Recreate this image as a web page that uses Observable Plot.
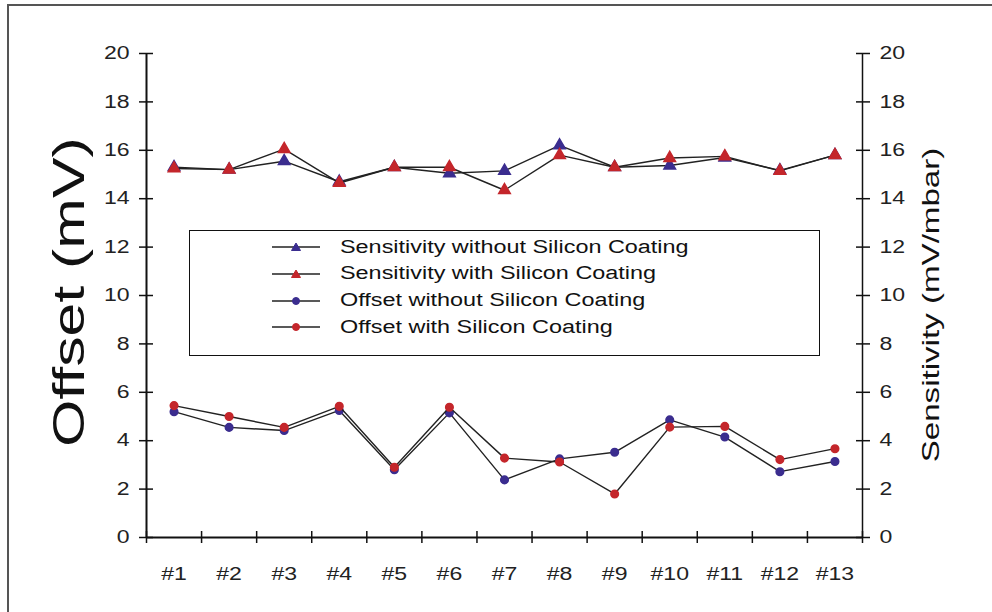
<!DOCTYPE html>
<html>
<head>
<meta charset="utf-8">
<script src="https://cdn.jsdelivr.net/npm/d3@7"></script>
<script src="https://cdn.jsdelivr.net/npm/@observablehq/plot@0.6"></script>
<style>
  html, body { margin: 0; padding: 0; background: #fff; }
  #wrap { position: relative; width: 992px; height: 612px; overflow: hidden; font-family: "Liberation Sans", Arial, sans-serif; }
  .border-top { position: absolute; left: 7px; top: 4px; width: 985px; height: 0; border-top: 2px solid #555; }
  .border-left { position: absolute; left: 7px; top: 4px; width: 0; height: 608px; border-left: 2px solid #555; }
  #legend { position: absolute; left: 189px; top: 230px; width: 631px; height: 126px; border: 1.5px solid #111; box-sizing: border-box; background: #fff; }
  #legend .row { position: absolute; left: 0; height: 24px; display: flex; align-items: center; }
  #legend .row span { font-size: 18px; color: #111; margin-left: 20px; display: inline-block; transform: scaleX(1.3); transform-origin: left center; white-space: nowrap; }
  .ytitle { position: absolute; white-space: nowrap; color: #111; line-height: 1; }
</style>
</head>
<body>
<div id="wrap"></div>
<script>
// Data
const samples = ["#1","#2","#3","#4","#5","#6","#7","#8","#9","#10","#11","#12","#13"];
const sensWithout = [15.3, 15.2, 15.55, 14.7, 15.3, 15.05, 15.15, 16.2, 15.3, 15.37, 15.7, 15.17, 15.8];
const sensWith    = [15.25, 15.2, 16.05, 14.65, 15.3, 15.3, 14.35, 15.8, 15.3, 15.68, 15.75, 15.15, 15.8];
const offWithout  = [5.2, 4.55, 4.42, 5.25, 2.8, 5.15, 2.38, 3.25, 3.52, 4.86, 4.15, 2.72, 3.14];
const offWith     = [5.45, 5.0, 4.55, 5.42, 2.9, 5.38, 3.28, 3.12, 1.8, 4.56, 4.59, 3.22, 3.67];
const yTicks = [0, 2, 4, 6, 8, 10, 12, 14, 16, 18, 20];
const seriesNames = [
  "Sensitivity without Silicon Coating",
  "Sensitivity with Silicon Coating",
  "Offset without Silicon Coating",
  "Offset with Silicon Coating"
];

const blue = "#3b2d8f";
const red = "#c4262b";

const idx = samples.map((s, i) => i + 1);
const toRows = (vals) => vals.map((v, i) => ({x: i + 1, y: v}));
const series = [
  {name: seriesNames[0], data: toRows(sensWithout), color: blue, symbol: "triangle"},
  {name: seriesNames[1], data: toRows(sensWith), color: red, symbol: "triangle"},
  {name: seriesNames[2], data: toRows(offWithout), color: blue, symbol: "circle"},
  {name: seriesNames[3], data: toRows(offWith), color: red, symbol: "circle"}
];
const boundaries = d3.range(0.5, samples.length + 1, 1);

const marks = [];
// axis lines
marks.push(Plot.ruleX([0.5], {stroke: "#111", strokeWidth: 2}));
marks.push(Plot.ruleX([samples.length + 0.5], {stroke: "#111", strokeWidth: 1.5}));
marks.push(Plot.ruleY([0], {stroke: "#111", strokeWidth: 2}));
// y axes (left & right), crossing ticks
for (const anchor of ["left", "right"]) {
  marks.push(Plot.axisY({anchor, ticks: yTicks, tickSize: 7, tickPadding: 10, fontSize: 18, stroke: "#111", strokeWidth: 1.5, color: "#222", label: null, tickFormat: d => d}));
  marks.push(Plot.axisY({anchor, ticks: yTicks, tickSize: -7, text: null, stroke: "#111", strokeWidth: 1.5, label: null}));
}
// x axis: ticks at boundaries, labels at centers
marks.push(Plot.axisX({ticks: boundaries, tickSize: 6, text: null, stroke: "#111", strokeWidth: 1.5, label: null}));
marks.push(Plot.axisX({ticks: boundaries, tickSize: -6, text: null, stroke: "#111", strokeWidth: 1.5, label: null}));
marks.push(Plot.axisX({ticks: idx, tickSize: 0, tickPadding: 30, fontSize: 18, color: "#222", label: null, tickFormat: d => samples[d - 1]}));

for (const s of series) {
  marks.push(Plot.line(s.data, {x: "x", y: "y", stroke: "#222", strokeWidth: 1.4}));
  marks.push(Plot.dot(s.data, {x: "x", y: "y", fill: s.color, stroke: s.color, symbol: s.symbol, r: s.symbol === "triangle" ? 4.3 : 3.8}));
}

const chart = Plot.plot({
  width: 992,
  height: 612,
  marginLeft: 146,
  marginRight: 130,
  marginTop: 53,
  marginBottom: 75,
  style: {fontFamily: "'Liberation Sans', Arial, sans-serif", background: "transparent"},
  x: {type: "linear", domain: [0.5, samples.length + 0.5]},
  y: {domain: [0, 20]},
  marks
});

const wrap = document.getElementById("wrap");
wrap.appendChild(chart);

// stretch tick labels horizontally like the reference (positions untouched)
d3.select(chart).selectAll("g[aria-label$='tick label'] text").each(function() {
  const L = this.getComputedTextLength();
  if (L > 0) {
    this.setAttribute("textLength", (L * 1.28).toFixed(2));
    this.setAttribute("lengthAdjust", "spacingAndGlyphs");
  }
});

const bt = document.createElement("div"); bt.className = "border-top"; wrap.appendChild(bt);
const bl = document.createElement("div"); bl.className = "border-left"; wrap.appendChild(bl);

// axis titles
const t1 = document.createElement("div");
t1.className = "ytitle"; t1.textContent = "Offset (mV)";
t1.style.left = "69px"; t1.style.top = "292px"; t1.style.fontSize = "44px";
t1.style.transform = "translate(-50%, -50%) rotate(-90deg) scaleX(1.38)";
wrap.appendChild(t1);
const t2 = document.createElement("div");
t2.className = "ytitle"; t2.textContent = "Sensitivity (mV/mbar)";
t2.style.left = "931px"; t2.style.top = "305px"; t2.style.fontSize = "24px";
t2.style.transform = "translate(-50%, -50%) rotate(-90deg) scaleX(1.38)";
wrap.appendChild(t2);

// legend
const legend = document.createElement("div");
legend.id = "legend";
series.forEach((s, i) => {
  const row = document.createElement("div");
  row.className = "row";
  row.style.top = (4 + i * 26.8) + "px";
  row.style.left = "82px";
  const sym = s.symbol === "triangle"
    ? `<path d="M24,5 L28.5,12.5 L19.5,12.5 Z" fill="${s.color}" stroke="${s.color}"/>`
    : `<circle cx="24" cy="9" r="3.5" fill="${s.color}" stroke="${s.color}"/>`;
  row.innerHTML = `<svg width="48" height="18"><line x1="0" x2="48" y1="9" y2="9" stroke="#222" stroke-width="1.3"/>${sym}</svg><span>${s.name}</span>`;
  legend.appendChild(row);
});
wrap.appendChild(legend);
</script>
</body>
</html>
